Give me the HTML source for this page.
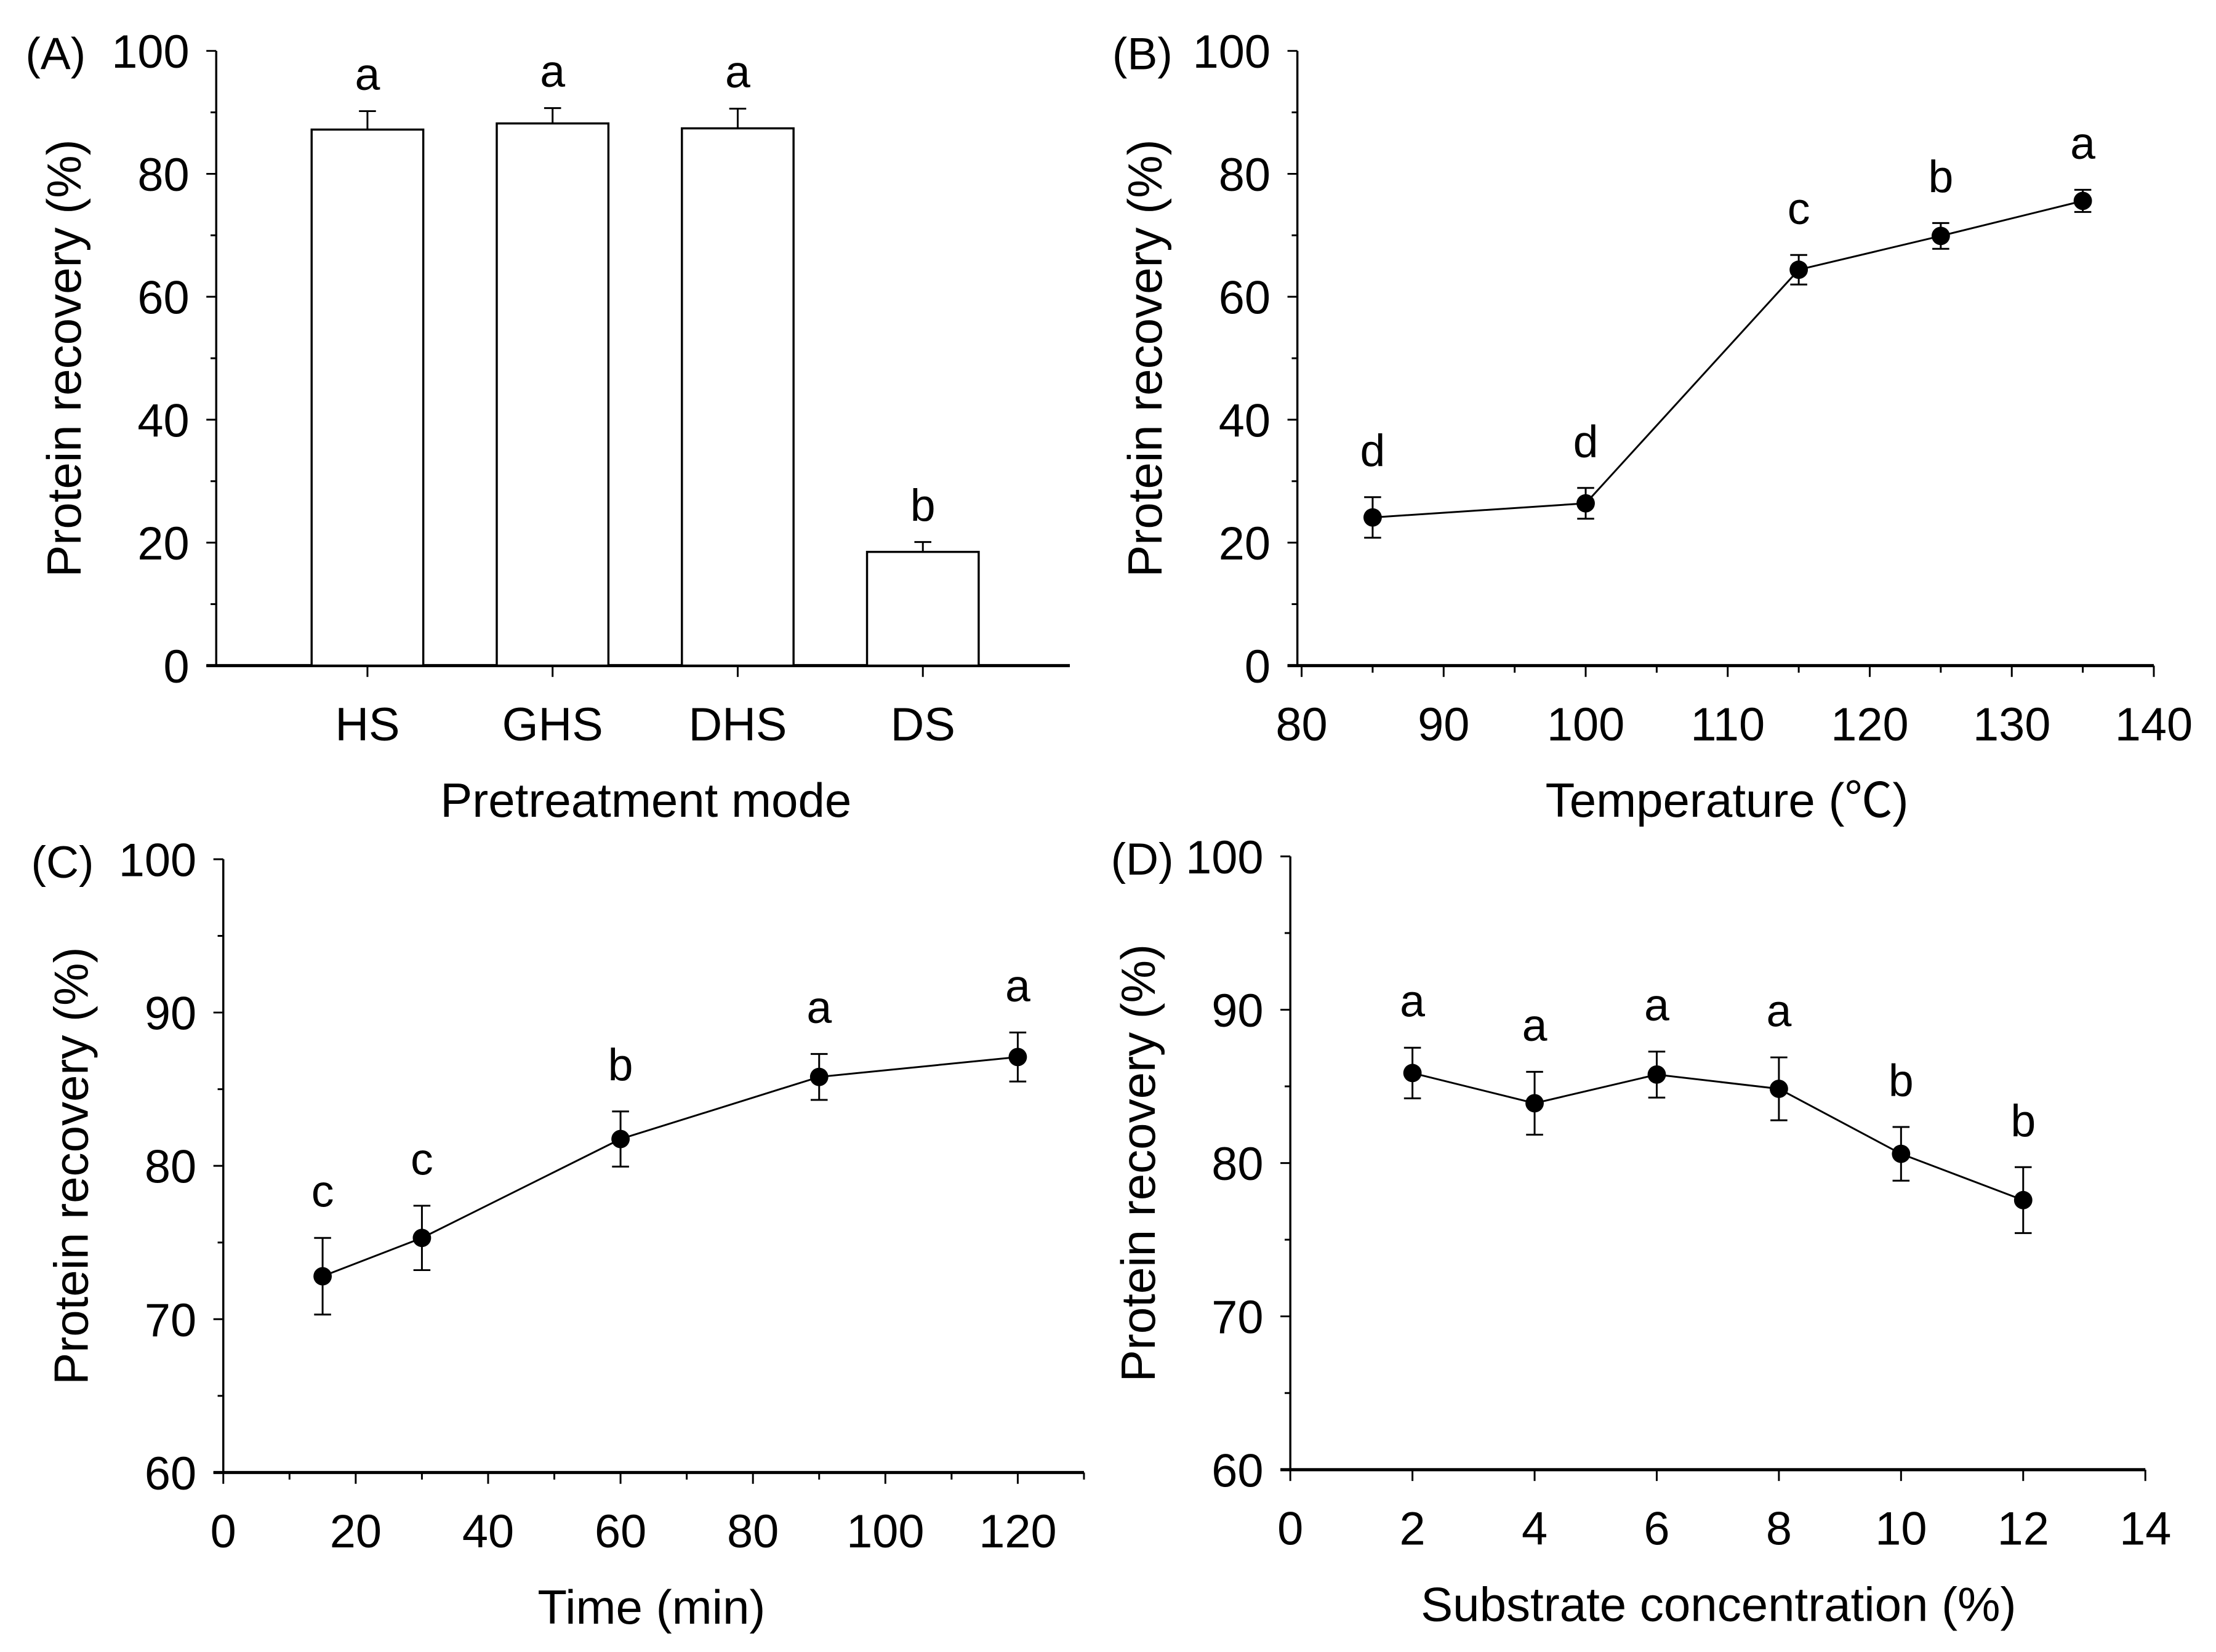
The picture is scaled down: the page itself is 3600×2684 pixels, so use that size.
<!DOCTYPE html>
<html><head><meta charset="utf-8"><style>
html,body{margin:0;padding:0;background:#fff;}
svg{display:block;}
text{font-family:"Liberation Sans","Noto Sans CJK SC",sans-serif;fill:#000;}
</style></head><body>
<svg id="fig" width="3600" height="2684" viewBox="0 0 1568 1169" xmlns="http://www.w3.org/2000/svg"></svg>
<script>
// Panel A data
const catsA = ["HS","GHS","DHS","DS"];
const valsA = [87.2, 88.2, 87.4, 18.5];
const errA = [3.0, 2.5, 3.2, 1.6];
const letA = ["a","a","a","b"];
// Panel B data
const xB = [85,100,115,125,135];
const valsB = [24.1, 26.4, 64.4, 69.9, 75.6];
const errB = [3.3, 2.5, 2.4, 2.1, 1.8];
const letB = ["d","d","c","b","a"];
// Panel C data
const xC = [15,30,60,90,120];
const valsC = [72.8, 75.3, 81.75, 85.8, 87.1];
const errC = [2.5, 2.1, 1.8, 1.5, 1.6];
const letC = ["c","c","b","a","a"];
// Panel D data
const xD = [2,4,6,8,10,12];
const valsD = [85.87, 83.9, 85.77, 84.84, 80.6, 77.58];
const errD = [1.65, 2.05, 1.5, 2.05, 1.75, 2.15];
const letD = ["a","a","a","a","b","b"];
// tick labels
const yTicksAB = [0,20,40,60,80,100];
const yTicksCD = [60,70,80,90,100];
const xTicksB = [80,90,100,110,120,130,140];
const xTicksC = [0,20,40,60,80,100,120];
const xTicksD = [0,2,4,6,8,10,12,14];

const svg = document.getElementById('fig');
const NS = 'http://www.w3.org/2000/svg';
const TF = 33, TT = 34;
function mk(tag, attrs, parent){const e=document.createElementNS(NS,tag);for(const k in attrs)e.setAttribute(k,attrs[k]);(parent||svg).appendChild(e);return e;}
function line(x1,y1,x2,y2,p,w){return mk('line',{x1,y1,x2,y2,stroke:'#000','stroke-width':w||1.3},p);}
function txt(s,x,y,size,anchor,p){const t=mk('text',{x,y,'font-size':size,'text-anchor':anchor||'middle'},p);t.textContent=s;return t;}

function panel(cfg){
  const g=mk('g',{});
  
  
  const sx=v=>cfg.x0+(v-cfg.xmin)/(cfg.xmax-cfg.xmin)*(cfg.x1-cfg.x0);
  const sy=v=>cfg.y0-(v-cfg.ymin)/(cfg.ymax-cfg.ymin)*(cfg.y0-cfg.y1);
  const ax=cfg.ax||cfg.x0;
  const ya=line(ax,cfg.y0,ax,cfg.y1,g,1.5);
  
  
  const xa=line(ax-7,cfg.y0,cfg.xend||cfg.x1,cfg.y0,g,2.2);
  
  
  for(let v=cfg.ymin; v<=cfg.ymax+1e-9; v+=cfg.yminor){
    const major = Math.abs(((v-cfg.ymin)/cfg.ystep)-Math.round((v-cfg.ymin)/cfg.ystep))<1e-6;
    line(ax-(major?7:4),sy(v),ax,sy(v),g,1.3);
  }
  cfg.yTicks.forEach(v=>{
    const t=txt(String(v),ax-19,sy(v)+12,TF,'end',g);
    
    
  });
  if(cfg.xminor){
    for(let v=cfg.xmin; v<=cfg.xmax+1e-9; v+=cfg.xminor){
      const major = Math.abs(((v-cfg.xmin)/cfg.xstep)-Math.round((v-cfg.xmin)/cfg.xstep))<1e-6;
      line(sx(v),cfg.y0,sx(v),cfg.y0+(major?8:5),g,1.3);
    }
    cfg.xTicks.forEach(v=>{
      const t=txt(String(v),sx(v),cfg.y0+53,TF,'middle',g);
      
      
    });
  }
  const xt=txt(cfg.xtitle,cfg.xtc,cfg.y0+107,TT,'middle',g);
  
  
  const yc=(cfg.y0+cfg.y1)/2;
  const yt=txt('Protein recovery (%)',0,0,TT,'middle',g);
  yt.setAttribute('transform',`translate(${ax-96},${yc}) rotate(-90)`);
  
  
  const pl=txt(cfg.label,cfg.lx,cfg.y1+13,32,'start',g);
  
  
  return {g,sx,sy};
}

// Panel A (bars)
(function(){
  const cfg={name:'panel-a',x0:153,x1:757,y0:471,y1:36,xmin:0,xmax:1,ymin:0,ymax:100,ystep:20,yminor:10,yTicks:yTicksAB,xtitle:'Pretreatment mode',xtc:457,label:'(A)',lx:18};
  const {g,sy}=panel(cfg);
  const centers=[260,391,522,653], bw=79;
  catsA.forEach((c,i)=>{
    const cx=centers[i];
    const b=mk('rect',{x:cx-bw/2,y:sy(valsA[i]),width:bw,height:sy(0)-sy(valsA[i]),fill:'#fff',stroke:'#000','stroke-width':1.5},g);
    
    
    const top=sy(valsA[i]+errA[i]);
    const e=line(cx,sy(valsA[i]),cx,top,g,1.3);
    
    
    line(cx-6,top,cx+6,top,g,1.3);
    line(cx,cfg.y0,cx,cfg.y0+8,g,1.3);
    const t=txt(c,cx,cfg.y0+53,TF,'middle',g);
    
    
    const l=txt(letA[i],cx,top-15,32,'middle',g);
    
    
  });
})();

function linePanel(cfg,xs,vals,errs,lets){
  const {g,sx,sy}=panel(cfg);
  const pts=xs.map((x,i)=>`${sx(x)},${sy(vals[i])}`).join(' ');
  const pl=mk('polyline',{points:pts,fill:'none',stroke:'#000','stroke-width':1.3},g);
  
  
  xs.forEach((x,i)=>{
    const cx=sx(x), top=sy(vals[i]+errs[i]), bot=sy(vals[i]-errs[i]);
    const e=line(cx,top,cx,bot,g,1.3);
    
    
    line(cx-6,top,cx+6,top,g,1.3);
    line(cx-6,bot,cx+6,bot,g,1.3);
    const c=mk('circle',{cx:cx,cy:sy(vals[i]),r:6.5,fill:'#000'},g);
    
    
    const l=txt(lets[i],cx,top-22,32,'middle',g);
    
    
  });
}

linePanel({name:'panel-b',ax:918,x0:921,x1:1524,y0:471,y1:36,xmin:80,xmax:140,xstep:10,xminor:5,xTicks:xTicksB,ymin:0,ymax:100,ystep:20,yminor:10,yTicks:yTicksAB,xtitle:'Temperature (℃)',xtc:1222,label:'(B)',lx:787},xB,valsB,errB,letB);
linePanel({name:'panel-c',x0:158,x1:767,y0:1042,y1:608,xmin:0,xmax:130,xstep:20,xminor:10,xTicks:xTicksC,ymin:60,ymax:100,ystep:10,yminor:5,yTicks:yTicksCD,xtitle:'Time (min)',xtc:461,label:'(C)',lx:22},xC,valsC,errC,letC);
linePanel({name:'panel-d',x0:913,x1:1518,y0:1040,y1:606,xmin:0,xmax:14,xstep:2,xminor:2,xTicks:xTicksD,ymin:60,ymax:100,ystep:10,yminor:5,yTicks:yTicksCD,xtitle:'Substrate concentration (%)',xtc:1216,label:'(D)',lx:786},xD,valsD,errD,letD);
</script>
</body></html>
